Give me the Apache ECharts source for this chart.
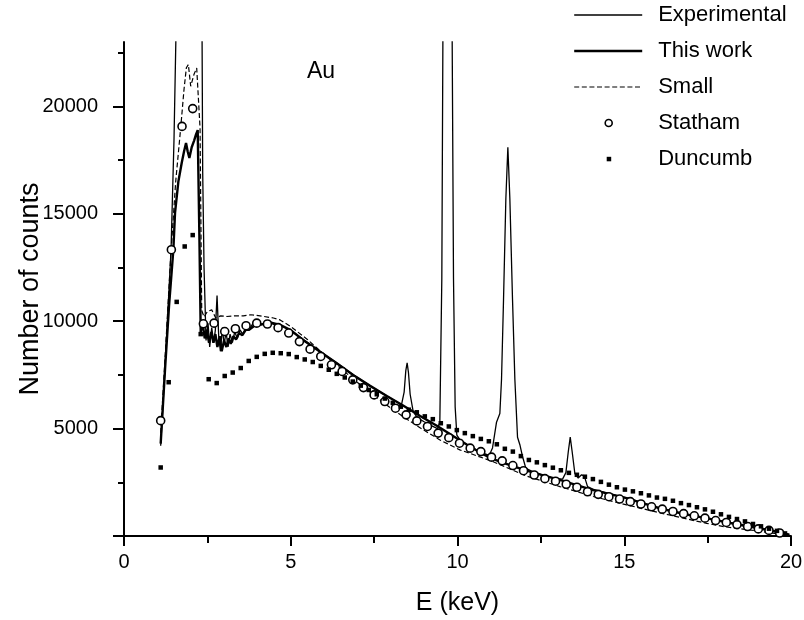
<!DOCTYPE html>
<html>
<head>
<meta charset="utf-8">
<script src="https://cdn.jsdelivr.net/npm/echarts@6/dist/echarts.min.js"></script>
<style>
    html, body { margin: 0; padding: 0; background: #fff; }
    #spectrum { width: 804px; height: 620px; }
</style>
</head>
<body>
<div id="spectrum"></div>
<script>
// [E (keV), counts]
var experimental = [
    [1.10, 4200], [1.20, 7000], [1.30, 10000], [1.41, 13300], [1.50, 18500], [1.56, 23500],
    [1.65, 32000], [1.80, 38000], [2.00, 40000], [2.15, 38000], [2.28, 30000], [2.34, 23500],
    [2.36, 16900], [2.40, 12500], [2.46, 9100], [2.52, 9900], [2.57, 8800], [2.63, 9700],
    [2.69, 9000], [2.74, 9600], [2.79, 11200], [2.84, 9300], [2.89, 8600], [2.95, 9700],
    [3.00, 8900], [3.06, 9500], [3.12, 8800], [3.18, 9400], [3.25, 9000], [3.32, 9500],
    [3.40, 9200], [3.48, 9600], [3.56, 9400], [3.65, 9700], [3.75, 9600], [3.85, 9850],
    [3.95, 9750], [4.05, 9900], [4.20, 9850], [4.35, 9950], [4.50, 9850], [4.70, 9800],
    [5.00, 9580], [5.40, 9120], [5.90, 8560], [6.40, 8030], [6.90, 7480], [7.40, 6970],
    [7.90, 6500], [8.20, 6230], [8.32, 6100], [8.40, 6700], [8.45, 7700], [8.49, 8060],
    [8.53, 7600], [8.58, 6600], [8.67, 5800], [8.80, 5500], [9.00, 5320], [9.20, 5150],
    [9.40, 5000], [9.47, 5300], [9.53, 12000], [9.57, 26000], [9.70, 60000], [9.83, 26000],
    [9.88, 12000], [9.93, 6000], [9.98, 4700], [10.10, 4420], [10.40, 4150], [10.70, 3900],
    [10.95, 3750], [11.05, 4100], [11.17, 5300], [11.27, 5700], [11.32, 7300], [11.38, 11000],
    [11.45, 15700], [11.51, 18100], [11.57, 15700], [11.65, 11000], [11.72, 7300], [11.80, 4600],
    [11.87, 4250], [11.95, 3700], [12.05, 3150], [12.30, 2960], [12.60, 2810], [12.90, 2680],
    [13.15, 2650], [13.25, 2950], [13.32, 3900], [13.38, 4600], [13.44, 3900], [13.52, 2900],
    [13.62, 2700], [13.72, 2850], [13.80, 2800], [13.90, 2300], [14.10, 2150], [14.60, 1950],
    [15.10, 1760], [15.60, 1520], [16.10, 1290], [16.60, 1100], [17.10, 930], [17.60, 790],
    [18.10, 640], [18.60, 490], [19.10, 350], [19.60, 200], [19.95, 60]
];

var thisWork = [
    [1.10, 4300], [1.23, 7740], [1.35, 10700], [1.48, 13330], [1.53, 15040], [1.63, 16500],
    [1.73, 17370], [1.80, 17900], [1.86, 18300], [1.91, 17900], [1.96, 17600], [2.03, 18100],
    [2.10, 18400], [2.16, 18700], [2.21, 18900], [2.26, 14000], [2.30, 9500], [2.36, 9900],
    [2.42, 9200], [2.48, 9600], [2.55, 9000], [2.62, 9500], [2.68, 9000], [2.74, 9400],
    [2.80, 8800], [2.87, 9300], [2.93, 8600], [3.00, 9100], [3.07, 8800], [3.14, 9200],
    [3.20, 8950], [3.28, 9300], [3.36, 9150], [3.45, 9450], [3.55, 9350], [3.65, 9600],
    [3.75, 9600], [3.90, 9780], [4.08, 9830], [4.25, 9900], [4.38, 9940], [4.68, 9830],
    [4.98, 9600], [5.37, 9130], [5.87, 8590], [6.37, 8050], [6.87, 7500], [7.38, 6990],
    [7.88, 6520], [8.38, 6060], [8.88, 5590], [9.38, 5130], [9.88, 4640], [10.37, 4170],
    [10.72, 3850], [11.07, 3580], [11.57, 3300], [12.07, 3040], [12.57, 2820], [13.07, 2610],
    [13.57, 2370], [14.07, 2140], [14.57, 1950], [15.07, 1760], [15.57, 1520], [16.07, 1290],
    [16.50, 1130], [17.00, 960], [17.50, 820], [18.00, 660], [18.50, 510], [19.00, 370],
    [19.50, 220], [19.95, 60]
];

var small = [
    [1.10, 4800], [1.25, 8800], [1.40, 13000], [1.55, 16500], [1.70, 19000], [1.80, 20800],
    [1.87, 21800], [1.93, 21950], [2.00, 20940], [2.10, 21500], [2.18, 21790], [2.23, 21700],
    [2.28, 19000], [2.33, 10500], [2.40, 10200], [2.50, 10450], [2.63, 10530], [2.75, 10150],
    [2.90, 10250], [3.08, 10220], [3.30, 10250], [3.58, 10250], [3.80, 10300], [4.08, 10250],
    [4.48, 10150], [4.68, 10060], [5.00, 9750], [5.50, 9150], [6.00, 8450], [6.50, 7800],
    [7.00, 7150], [7.50, 6550], [8.00, 5950], [8.50, 5420], [9.00, 4920], [9.50, 4450],
    [10.07, 4010], [10.37, 3850], [11.07, 3460], [12.07, 2790], [13.07, 2300], [14.07, 1840],
    [15.07, 1450], [16.07, 1080], [17.00, 750], [17.47, 590], [18.00, 430], [18.97, 240],
    [19.50, 120], [19.90, 20]
];

var statham = [
    [1.10, 5370], [1.42, 13330], [1.74, 19070], [2.06, 19900], [2.38, 9880], [2.70, 9910],
    [3.02, 9520], [3.34, 9650], [3.66, 9790], [3.98, 9910], [4.30, 9870], [4.62, 9700],
    [4.94, 9450], [5.26, 9050], [5.58, 8700], [5.90, 8360], [6.22, 7970], [6.54, 7660],
    [6.86, 7270], [7.18, 6910], [7.50, 6570], [7.82, 6260], [8.14, 5950], [8.46, 5640],
    [8.78, 5360], [9.10, 5100], [9.42, 4790], [9.74, 4580], [10.06, 4320], [10.38, 4090],
    [10.70, 3930], [11.02, 3670], [11.34, 3500], [11.66, 3280], [11.98, 3040], [12.30, 2840],
    [12.62, 2670], [12.94, 2550], [13.26, 2410], [13.58, 2270], [13.90, 2060], [14.22, 1940],
    [14.54, 1830], [14.86, 1720], [15.18, 1600], [15.50, 1490], [15.82, 1360], [16.14, 1250],
    [16.46, 1140], [16.78, 1040], [17.10, 940], [17.42, 830], [17.74, 720], [18.06, 630],
    [18.38, 530], [18.70, 440], [19.02, 330], [19.34, 260], [19.66, 140]
];

var duncumb = [
    [1.10, 3190], [1.34, 7160], [1.58, 10900], [1.82, 13480], [2.06, 14010], [2.30, 9400],
    [2.54, 7300], [2.78, 7120], [3.02, 7450], [3.26, 7610], [3.50, 7820], [3.74, 8150],
    [3.98, 8340], [4.22, 8480], [4.46, 8530], [4.70, 8510], [4.94, 8470], [5.18, 8330],
    [5.42, 8220], [5.66, 8100], [5.90, 7920], [6.14, 7740], [6.38, 7550], [6.62, 7380],
    [6.86, 7190], [7.10, 7000], [7.34, 6800], [7.58, 6600], [7.82, 6400], [8.06, 6200],
    [8.30, 6020], [8.54, 5880], [8.78, 5760], [9.02, 5570], [9.26, 5440], [9.50, 5250],
    [9.74, 5100], [9.98, 4930], [10.22, 4790], [10.46, 4650], [10.70, 4520], [10.94, 4410],
    [11.18, 4270], [11.42, 4060], [11.66, 3930], [11.90, 3720], [12.14, 3540], [12.38, 3430],
    [12.62, 3300], [12.86, 3180], [13.10, 3060], [13.34, 2940], [13.58, 2850], [13.82, 2760],
    [14.06, 2650], [14.30, 2520], [14.54, 2390], [14.78, 2270], [15.02, 2160], [15.26, 2080],
    [15.50, 1990], [15.74, 1890], [15.98, 1790], [16.22, 1730], [16.46, 1640], [16.70, 1530],
    [16.94, 1440], [17.18, 1340], [17.42, 1240], [17.66, 1130], [17.90, 1010], [18.14, 890],
    [18.38, 790], [18.62, 680], [18.86, 560], [19.10, 450], [19.34, 340], [19.58, 240],
    [19.82, 120]
];

var seriesNames = ['Experimental', 'This work', 'Small', 'Statham', 'Duncumb'];
var yMajorTicks = [0, 5000, 10000, 15000, 20000];
var yLabelTicks = [5000, 10000, 15000, 20000];
var yMinorTicks = [2500, 7500, 12500, 17500, 22500];

function drawSpectrum() {
    var font = "'Liberation Sans', Arial, sans-serif";
    var black = '#000';

    // legend icons sit in a 79x14 box so the text starts where the original has it
    var box = 'M0 0 M79 14 ';
    var lineIcon = 'path://' + box + 'M0 7 L68 7';
    var circleIcon = 'path://' + box + 'M38 7 A3.5 3.5 0 1 1 31 7 A3.5 3.5 0 1 1 38 7 Z';
    var squareIcon = 'path://' + box + 'M32.5 4.8 L37 4.8 L37 9.3 L32.5 9.3 Z';

    var option = {
        animation: false,
        backgroundColor: '#fff',
        title: {
            text: 'Au',
            left: 307,
            top: 60,
            padding: 0,
            textStyle: { fontFamily: font, fontSize: 23, fontWeight: 'normal', color: black }
        },
        legend: {
            orient: 'vertical',
            left: 573,
            top: 4,
            padding: 0,
            itemWidth: 79,
            itemHeight: 14,
            itemGap: 14,
            selectedMode: false,
            textStyle: { fontFamily: font, fontSize: 22, lineHeight: 22, color: black },
            data: [
                { name: seriesNames[0], icon: lineIcon, itemStyle: { color: black, borderColor: black, borderWidth: 1.3 } },
                { name: seriesNames[1], icon: lineIcon, itemStyle: { color: black, borderColor: black, borderWidth: 2.4 } },
                { name: seriesNames[2], icon: lineIcon, itemStyle: { color: black, borderColor: black, borderWidth: 1.2, borderType: [5, 2.6] } },
                { name: seriesNames[3], icon: circleIcon, itemStyle: { color: '#fff', borderColor: black, borderWidth: 1.6 } },
                { name: seriesNames[4], icon: squareIcon, itemStyle: { color: black, borderWidth: 0 } }
            ]
        },
        grid: { left: 124, right: 13, top: 42, bottom: 84, outerBoundsMode: 'none' },
        xAxis: {
            type: 'value',
            min: 0,
            max: 20,
            interval: 5,
            name: 'E (keV)',
            nameLocation: 'middle',
            nameGap: 55,
            nameMoveOverlap: false,
            nameTextStyle: { fontFamily: font, fontSize: 25, color: black },
            axisLine: { lineStyle: { color: black, width: 2 } },
            axisTick: { length: 10, lineStyle: { color: black, width: 2 } },
            minorTick: { show: true, splitNumber: 2, length: 7, lineStyle: { color: black, width: 2 } },
            axisLabel: { margin: 16, fontFamily: font, fontSize: 20, color: black },
            splitLine: { show: false }
        },
        yAxis: [{
            type: 'value',
            min: 0,
            max: 23000,
            interval: 5000,
            name: 'Number of counts',
            nameLocation: 'middle',
            nameGap: 80,
            nameMoveOverlap: false,
            nameTextStyle: { fontFamily: font, fontSize: 27, color: black },
            axisLine: { lineStyle: { color: black, width: 2 } },
            axisTick: { length: 11, customValues: yMajorTicks, lineStyle: { color: black, width: 2 } },
            axisLabel: {
                margin: 26,
                customValues: yLabelTicks,
                fontFamily: font,
                fontSize: 20,
                color: black,
                formatter: function (v) { return String(v); }
            },
            splitLine: { show: false }
        }, {
            type: 'value',
            position: 'left',
            min: 0,
            max: 23000,
            interval: 5000,
            axisLine: { show: false },
            axisTick: { length: 6, customValues: yMinorTicks, lineStyle: { color: black, width: 2 } },
            axisLabel: { show: false },
            splitLine: { show: false }
        }],
        series: [{
            name: seriesNames[0],
            type: 'line',
            data: experimental,
            symbol: 'none',
            lineStyle: { color: black, width: 1.3 },
            itemStyle: { color: black },
            z: 3
        }, {
            name: seriesNames[1],
            type: 'line',
            data: thisWork,
            symbol: 'none',
            lineStyle: { color: black, width: 2.4 },
            itemStyle: { color: black },
            z: 3
        }, {
            name: seriesNames[2],
            type: 'line',
            data: small,
            symbol: 'none',
            lineStyle: { color: black, width: 1.2, type: [5, 2.6] },
            itemStyle: { color: black },
            z: 3
        }, {
            name: seriesNames[3],
            type: 'scatter',
            data: statham,
            symbol: 'circle',
            symbolSize: 8,
            itemStyle: { color: '#fff', borderColor: black, borderWidth: 1.6, opacity: 1 },
            z: 4
        }, {
            name: seriesNames[4],
            type: 'scatter',
            data: duncumb,
            symbol: 'rect',
            symbolSize: 4.5,
            itemStyle: { color: black, opacity: 1 },
            z: 4
        }]
    };

    var chart = echarts.init(document.getElementById('spectrum'));
    chart.setOption(option);
}

drawSpectrum();
</script>
</body>
</html>
